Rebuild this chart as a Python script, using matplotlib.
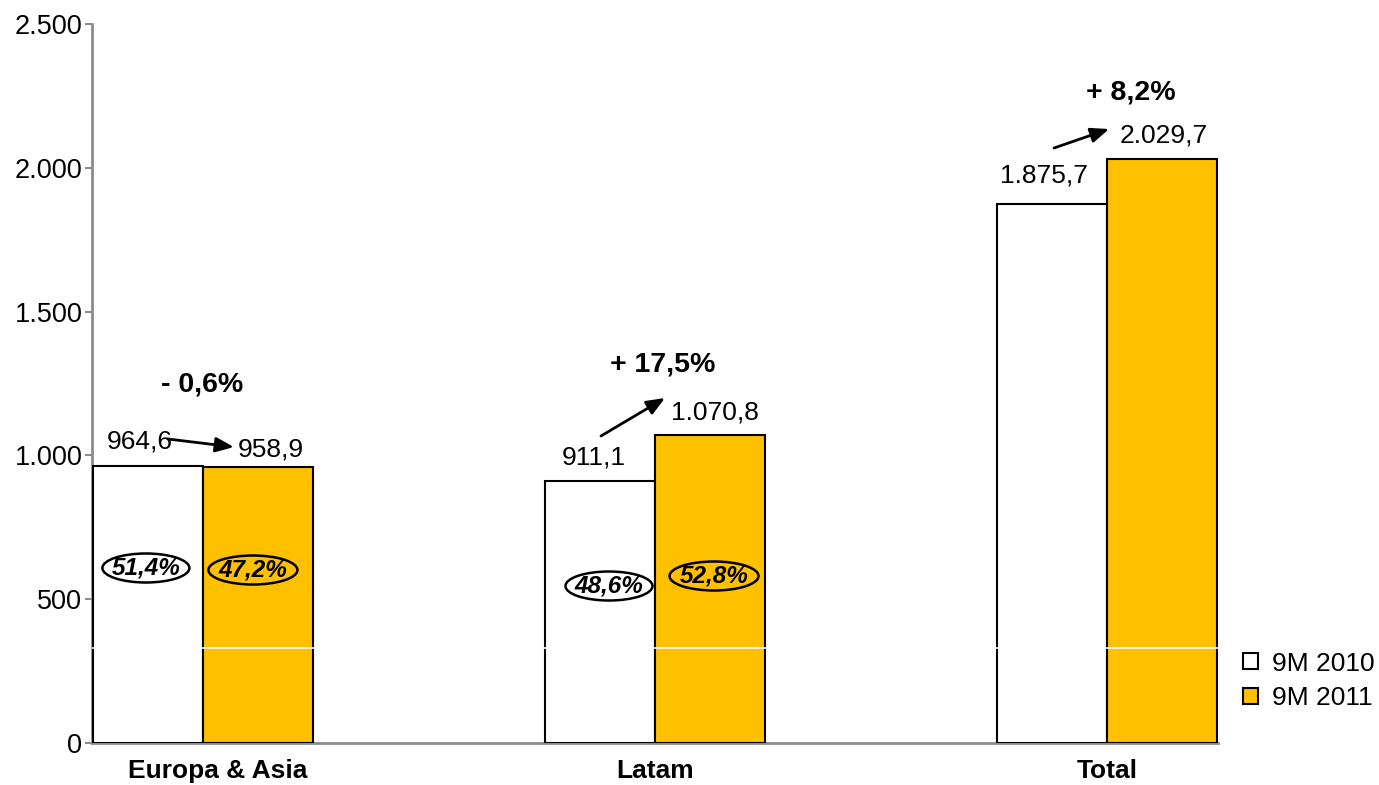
import matplotlib
matplotlib.use("Agg")
import matplotlib.pyplot as plt
from matplotlib.patches import Ellipse, Patch
from matplotlib.ticker import FuncFormatter

plt.rcParams['font.family'] = ['Liberation Sans', 'DejaVu Sans']

categories = ["Europa & Asia", "Latam", "Total"]
series_names = ["9M 2010", "9M 2011"]
values_2010 = [964.6, 911.1, 1875.7]
values_2011 = [958.9, 1070.8, 2029.7]
growth_labels = ["- 0,6%", "+ 17,5%", "+ 8,2%"]
share_2010 = ["51,4%", "48,6%"]
share_2011 = ["47,2%", "52,8%"]
yticks = [0, 500, 1000, 1500, 2000, 2500]

def fmt_num(v):
    s = f"{v:,.1f}"
    return s.replace(",", "X").replace(".", ",").replace("X", ".")

W, H = 1379, 785
fig = plt.figure(figsize=(W / 100, H / 100), dpi=100)
ax = fig.add_axes([92 / W, 1 - 743 / H, (1218 - 92) / W, (743 - 24) / H])

bw = 110 / 452
x = list(range(len(categories)))
gold = "#FFC000"
ax.bar([i - bw / 2 for i in x], values_2010, width=bw, color="white",
       edgecolor="black", linewidth=1.5, zorder=2)
ax.bar([i + bw / 2 for i in x], values_2011, width=bw, color=gold,
       edgecolor="black", linewidth=1.5, zorder=2)
ax.axhline(330, color="white", linewidth=1.2, zorder=3)

ax.set_xlim(-bw - 0.002, 2 + bw + 0.002)
ax.set_ylim(0, 2500)
ax.set_yticks(yticks)
ax.yaxis.set_major_formatter(FuncFormatter(lambda v, p: f"{int(v):,}".replace(",", ".")))
ax.set_xticks([])

for s in ["top", "right"]:
    ax.spines[s].set_visible(False)
for s in ["left", "bottom"]:
    ax.spines[s].set_color("#8c8c8c")
    ax.spines[s].set_linewidth(2)
    ax.spines[s].set_zorder(1)
ax.tick_params(axis="y", direction="out", length=5, width=1.5, color="#8c8c8c",
               labelsize=19.5, pad=2)

# px -> data helpers
def dx(px, ci):
    return ci + (px - (203 + 452 * ci)) / 452
def dy(py):
    return (743 - py) * 500 / 143.8

# category labels
cat_px = [218, 655, 1107]
for i, (c, px) in enumerate(zip(categories, cat_px)):
    ax.text(dx(px, i), dy(771), c, ha="center", va="center",
            fontsize=19, fontweight="bold", clip_on=False)

# value labels
lab2010_px = [(140, 441), (594, 458), (1044, 176)]
lab2011_px = [(271, 450), (715, 412), (1164, 136)]
for i in x:
    ax.text(dx(lab2010_px[i][0], i), dy(lab2010_px[i][1]), fmt_num(values_2010[i]),
            ha="center", va="center", fontsize=19)
    ax.text(dx(lab2011_px[i][0], i), dy(lab2011_px[i][1]), fmt_num(values_2011[i]),
            ha="center", va="center", fontsize=19)

# growth labels
growth_px = [(202, 385), (663, 365), (1131, 92)]
for i in x:
    ax.text(dx(growth_px[i][0], i), dy(growth_px[i][1]), growth_labels[i],
            ha="center", va="center", fontsize=20.5, fontweight="bold")

# arrows
arrows_px = [((168, 439), (234, 447)), ((601, 436), (665, 398)), ((1054, 148), (1109, 129))]
for i, (s, e) in enumerate(arrows_px):
    ax.annotate("", xy=(dx(e[0], i), dy(e[1])), xytext=(dx(s[0], i), dy(s[1])),
                arrowprops=dict(arrowstyle="-|>,head_length=1.1,head_width=0.45",
                                color="black", lw=2, shrinkA=0, shrinkB=0))

# share ellipses
e2010_px = [(146, 568), (609, 586)]
e2011_px = [(253, 570), (714, 576)]
for i in range(2):
    for (cx, cy), txt, wpx in [(e2010_px[i], share_2010[i], 87), (e2011_px[i], share_2011[i], 89)]:
        xc, yc = dx(cx, i), dy(cy)
        ax.add_patch(Ellipse((xc, yc), wpx / 452, 29 * 500 / 143.8, facecolor="none",
                             edgecolor="black", linewidth=1.8, zorder=4))
        ax.text(xc, yc, txt, ha="center", va="center", fontsize=17.5,
                fontweight="bold", fontstyle="italic", zorder=5)

handles = [Patch(facecolor="white", edgecolor="black", linewidth=1.5),
           Patch(facecolor=gold, edgecolor="black", linewidth=1.5)]
fig.legend(handles, series_names, loc="center left",
           bbox_to_anchor=(1243 / W, 1 - 681 / H), frameon=False, fontsize=19,
           handlelength=0.55, handleheight=0.55, handletextpad=0.55,
           labelspacing=0.4, borderpad=0, borderaxespad=0)

fig.savefig("out.png", dpi=100)
